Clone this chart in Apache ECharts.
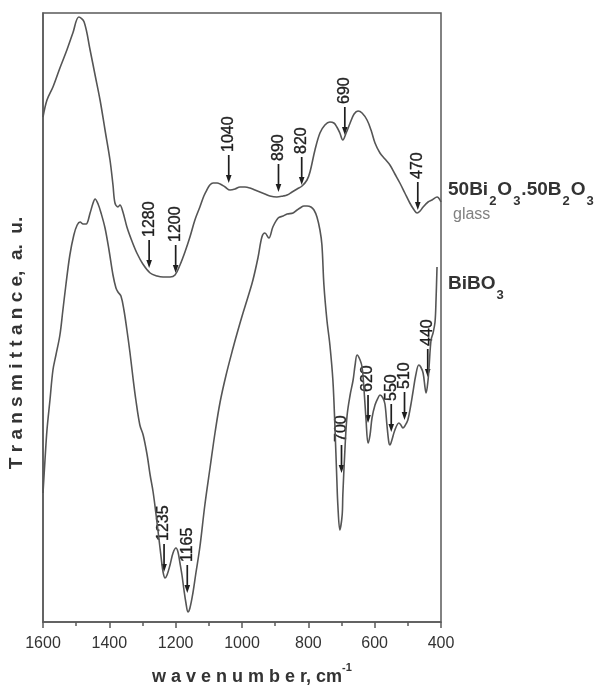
<!DOCTYPE html>
<html>
<head>
<meta charset="utf-8">
<script src="https://cdn.jsdelivr.net/npm/echarts@6/dist/echarts.min.js"></script>
<style>
html,body{margin:0;padding:0;background:#fff;}
#chart{width:607px;height:685px;}
</style>
</head>
<body>
<div id="chart"></div>
<script>
// ---- data (wavenumber cm-1, transmittance a.u.) ----
const xTicks = [1600, 1400, 1200, 1000, 800, 600, 400];

const glassSpectrum = [
[1600,505],[1588,522],[1570,535],[1549,554],[1528,572],[1510,589],[1492,605],[1476,600],
[1458,572],[1443,547],[1428,522],[1413,492],[1398,462],[1389,437],[1383,419],[1374,415],
[1368,417],[1359,410],[1347,395],[1332,381],[1317,369],[1299,358],[1277,349],[1256,346],
[1238,345],[1217,345],[1202,347],[1187,357],[1172,370],[1157,385],[1142,402],[1127,415],
[1115,426],[1106,432],[1097,437],[1087,439],[1075,439],[1066,438],[1051,435],[1036,432],
[1021,433],[1006,435],[991,435],[976,434],[961,432],[946,430],[931,428],[916,426],
[895,425],[876,426],[864,427],[849,430],[834,433],[819,436],[804,442],[795,450],
[780,472],[765,489],[750,497],[735,500],[723,499],[714,495],[705,489],[696,482],
[686,489],[674,499],[662,508],[650,511],[638,509],[623,502],[611,492],[599,479],
[584,469],[569,463],[554,457],[539,448],[524,439],[509,429],[494,419],[481,412],
[472,409],[463,411],[454,415],[439,420],[427,422],[412,425],[400,420]
];

const bibo3Spectrum = [
[1600,129],[1594,162],[1588,192],[1579,222],[1570,252],[1561,267],[1549,287],[1540,312],
[1531,337],[1519,367],[1507,387],[1497,397],[1488,400],[1479,398],[1470,398],[1458,409],
[1449,419],[1443,423],[1434,418],[1425,409],[1413,394],[1401,372],[1389,347],[1380,334],
[1374,330],[1365,326],[1356,312],[1347,292],[1338,270],[1329,245],[1320,222],[1308,197],
[1298,187],[1286,167],[1277,147],[1268,130],[1259,107],[1250,82],[1244,65],[1238,50],
[1232,44],[1226,47],[1217,57],[1208,69],[1199,74],[1193,70],[1187,59],[1181,47],
[1175,32],[1169,19],[1163,10],[1157,14],[1148,29],[1139,49],[1127,75],[1112,117],
[1096,155],[1081,190],[1066,220],[1048,247],[1027,274],[1012,292],[997,309],[982,325],
[967,342],[952,364],[940,385],[931,389],[919,384],[907,395],[891,404],[876,406],
[864,408],[846,409],[834,412],[825,414],[813,416],[804,416],[792,415],[783,412],
[774,405],[765,392],[759,377],[753,337],[744,302],[735,277],[726,242],[720,197],
[714,142],[711,117],[705,92],[698,107],[696,127],[689,177],[683,207],[674,227],
[665,242],[659,257],[653,267],[644,262],[638,255],[632,232],[626,202],[620,179],
[614,187],[608,204],[599,217],[590,224],[584,227],[575,224],[569,218],[563,197],
[557,179],[554,177],[548,182],[539,192],[527,199],[521,197],[515,194],[509,196],
[500,202],[491,217],[485,229],[476,247],[467,257],[461,255],[454,249],[448,234],
[445,229],[439,242],[436,255],[430,282],[424,289],[418,300],[415,322],[412,355]
];

const glassPeaks  = [1280, 1200, 1040, 890, 820, 690, 470];
const glassTips   = [354, 349, 439, 430, 437, 487, 412];
const bibo3Peaks  = [1235, 1165, 700, 620, 550, 510, 440];
const bibo3Tips   = [50, 29, 149, 199, 190, 202, 245];

// ---- chart ----
const FONT = '"Liberation Sans", Arial, Helvetica, sans-serif';
const chart = echarts.init(document.getElementById('chart'));

function arrowSeries(peaks, tips) {
  return {
    type: 'custom',
    clip: false,
    silent: true,
    data: peaks.map((w, i) => [w, tips[i]]),
    encode: { x: 0, y: 1 },
    renderItem: function (params, api) {
      const p = api.coord([api.value(0), api.value(1)]);
      const x = p[0], y = p[1];
      return {
        type: 'group',
        children: [
          { type: 'line', shape: { x1: x, y1: y - 28, x2: x, y2: y - 6 },
            style: { stroke: '#1e1e1e', lineWidth: 1.7 } },
          { type: 'polygon', shape: { points: [[x - 2.8, y - 8], [x + 2.8, y - 8], [x, y]] },
            style: { fill: '#1e1e1e' } },
          { type: 'text', x: x, y: y - 31, rotation: Math.PI / 2,
            style: { text: String(peaks[params.dataIndex]), fill: '#1e1e1e',
                     font: '16px ' + FONT, textAlign: 'left', textVerticalAlign: 'middle',
                     stroke: '#1e1e1e', lineWidth: 0.35 } }
        ]
      };
    }
  };
}

const subRich = {
  b: { font: 'bold 19px ' + FONT, fill: '#333', lineHeight: 19, verticalAlign: 'top' },
  s: { font: 'bold 13px ' + FONT, fill: '#333', lineHeight: 13, verticalAlign: 'top', padding: [15, 1, 0, 1] }
};

const option = {
  backgroundColor: '#fff',
  animation: false,
  grid: { left: 43, right: 166, top: 13, bottom: 63, show: true,
          borderColor: '#5a5a5a', borderWidth: 1.5, backgroundColor: 'transparent' },
  xAxis: {
    type: 'value', min: 400, max: 1600, interval: 200, inverse: true,
    axisLine: { show: true, lineStyle: { color: '#5a5a5a', width: 1.5 } },
    axisTick: { show: true, length: 6, inside: false, lineStyle: { color: '#5a5a5a', width: 1.5 } },
    minorTick: { show: true, splitNumber: 2, length: 4, lineStyle: { color: '#5a5a5a', width: 1.5 } },
    splitLine: { show: false },
    axisLabel: { margin: 14, color: '#333', fontSize: 16, fontFamily: FONT,
                 formatter: v => xTicks.indexOf(v) >= 0 ? String(v) : '' }
  },
  yAxis: {
    type: 'value', min: 0, max: 609,
    axisLine: { show: true, lineStyle: { color: '#5a5a5a', width: 1.5 } },
    axisTick: { show: false }, axisLabel: { show: false }, splitLine: { show: false }
  },
  series: [
    { type: 'line', data: glassSpectrum, showSymbol: false, smooth: 0.35,
      lineStyle: { color: '#555', width: 1.6 }, silent: true },
    { type: 'line', data: bibo3Spectrum, showSymbol: false, smooth: 0.35,
      lineStyle: { color: '#555', width: 1.6 }, silent: true },
    arrowSeries(glassPeaks, glassTips),
    arrowSeries(bibo3Peaks, bibo3Tips)
  ],
  graphic: [
    { type: 'text', left: 448, top: 180,
      style: { text: '{b|50Bi}{s|2}{b|O}{s|3}{b|.50B}{s|2}{b|O}{s|3}', rich: subRich } },
    { type: 'text', left: 453, top: 207,
      style: { text: 'glass', font: '16px ' + FONT, fill: '#808080' } },
    { type: 'text', left: 448, top: 274,
      style: { text: '{b|BiBO}{s|3}', rich: subRich } },
    { type: 'text', left: 152, top: 662,
      style: {
        text: '{b|w a v e n u m b e r, cm}{s|-1}',
        rich: {
          b: { font: 'bold 18px ' + FONT, fill: '#333', lineHeight: 20, verticalAlign: 'top', padding: [6, 0, 0, 0] },
          s: { font: 'bold 11px ' + FONT, fill: '#333', lineHeight: 11, verticalAlign: 'top' }
        }
      } },
    { type: 'text', x: 17, y: 343, rotation: Math.PI / 2,
      style: { text: 'T r a n s m i t t a n c e,  a.  u.', font: 'bold 19px ' + FONT,
               fill: '#333', textAlign: 'center', textVerticalAlign: 'middle' } }
  ]
};
chart.setOption(option);
</script>
</body>
</html>
